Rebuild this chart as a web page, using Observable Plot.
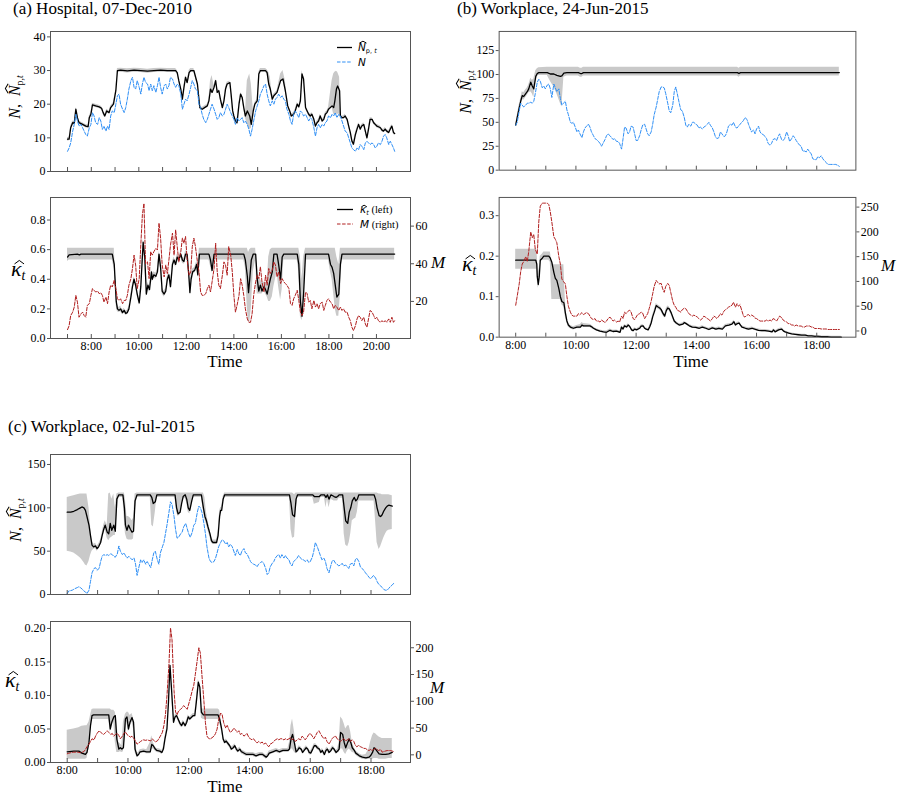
<!DOCTYPE html>
<html><head><meta charset="utf-8">
<script src="https://cdn.jsdelivr.net/npm/d3@7"></script>
<script src="https://cdn.jsdelivr.net/npm/@observablehq/plot@0.6"></script>
<style>
body{margin:0;background:#fff;}
#root{position:relative;width:899px;height:796px;font-family:"Liberation Serif","Times New Roman",serif;color:#000;overflow:hidden;background:#fff}
.t{position:absolute;white-space:nowrap;line-height:1}
.sub{position:relative;top:0.35em;font-size:0.62em;font-style:normal}
.subi{position:relative;top:0.35em;font-size:0.62em;font-style:italic}
.leg{font-family:"DejaVu Sans",sans-serif;font-size:10px}
.hat{position:relative;display:inline-block;font-style:italic}
.hat svg{position:absolute;overflow:visible}
</style></head><body><div id="root"></div>
<script>
// ---------------- DATA ----------------
// Panel (a): minutes after 07:00
const aStart = 420;
const aGridT = [0,4,8,13,17,21,25,29,34,38,42,46,50,55,59,63,67,71,76,80,84,88,92,97,101,105,109,113,118,122,126,130,134,139,143,147,151,155,160,164,168,172,176,181,185,189,193,197,202,206,210,214,218,223,227,231,235,239,244,248,252,256,260,265,269,273,277,281,286,290,294,298,302,307,311,315,319,323,328,332,336,340,344,349,353,357,361,365,370,374,378,382,386,391,395,399,403,407,412,416,420,424,428,433,437,441,445,449,454,458,462,466,470,475,479,483,487,491,496,500,504,508,512,517,521,525,529,533,538,542,546,550,554,559,563,567,571,575,580,584,588,592,596,601,605,609,613,617,622,626,630,634,638,643,647,651,655,659,664,668,672,676,680,685,689,693,697,701,706,710,714,718,722,727,731,735,739,743,748,752,756,760,764,769,773,777,781,785,790,794,798,802,806,811,815,819,823,826];
const aN = [6,7,8.5,12,14,17,15,13.5,14,13,12,11,10.5,13,14,17.5,16.5,14.5,14,16,15,12.5,13.5,12,13.5,12.5,16.5,18,17.5,20,22.5,23,20,18.5,17.5,19,21.5,24.5,27,28,25,24.5,27,25,23,26,28,26.5,26,24,26,24,25.5,23.5,25.5,28,25,23,25.5,26,24.5,25.5,28,27.5,26,25,26,25.5,23,18.5,20,21.5,21,23,25,27,26,24.5,24,20,19,17,15.5,14.5,15.5,17,18.5,20,18.5,17,15.5,16,17.5,16.5,17,18.5,20,19,17.5,16.5,15.5,14,16,15,15.5,16,14.5,15,14,12.5,10.5,12.5,15,18,19.5,21,23,24,25.5,26,23,21,19.5,21,20,21.5,22,23,22,22.5,21.5,21,18.5,17,15,14,17,18,17,16,18,17.5,16.5,17,16,15,16,15.5,13,10.5,13,14,13,14,13.5,14.5,15,16.5,16,17,16.5,17.5,16,17,16.5,15,13.5,12,11.5,10,8.5,7,6.5,6,7,6.5,8,7.5,6.5,8.5,9,8.5,8,8.5,8,7,7.5,8.5,8,9,10.5,11,10,8,9,8,7,6];
const aM = [5,7.1,12.5,14.3,17,23.2,19.6,11.6,13.4,14.3,12.5,11.6,17.9,18.8,23.2,26.8,25.9,25,25.4,24.1,24.6,23.2,19.6,22.3,18.8,25,28.6,27.7,31.3,26.8,21.4,20.5,21.4,18.8,20.5,20.5,23.2,28.6,32.1,37.5,44.6,39.3,26.8,32.1,50,66,72,40,41,32.1,46.4,44.6,46.4,48.2,47.3,61.6,53.6,39.3,33,39.3,34.8,42,50,56.3,44.6,58,49.1,41,46.4,53.6,50.9,54.5,42,33.9,35.7,49.1,53.6,49.1,41,35.7,25,23.2,23.2,24.1,26.8,28.6,25,30.4,37.5,50.9,35.7,28.6,26.8,33.9,41,39.3,33.9,49.1,44.6,35.7,23.2,14.3,17.9,23.2,32.1,28.6,23.2,16.1,10.7,8.9,8.9,13.4,23.2,30.4,33.9,32.1,38.4,30.4,25,33.9,28.6,37.5,34.8,36.6,41,39.3,33,35.7,29.5,32.1,30.4,29.5,28.6,26.8,18.8,17.9,21.4,23.2,25.9,20.5,14.3,12.5,14.3,25,24.1,19.6,20.5,16.1,20.5,17,18.8,16.1,18.8,19.6,15.2,17.9,20.5,21.4,19.6,18.8,16.1,17.9,17,15.2,17,15.2,16.1,14.3,14.3,11.6,9.8,6.3,4.5,7.1,10.7,12.5,11.6,9.8,11.6,8,6.3,10.7,15.2,14.3,12.5,10.7,11.6,9.8,8.9,9.8,8.9,9.8,8.9,10.7,8.9,11.6,8.9,9.8];
const aTopT = [0,4,8,13,17,21,25,29,38,46,52,55,59,63,71,80,86,90,94,99,105,109,116,122,126,134,151,168,185,202,218,235,252,273,277,281,286,290,294,298,302,307,311,319,328,334,340,349,353,357,361,365,370,374,378,382,386,391,395,399,403,410,413,417,420,424,428,433,437,441,445,449,454,460,464,469,473,479,483,487,500,504,508,512,517,521,529,538,544,550,556,561,565,571,575,580,584,588,592,596,601,605,609,613,617,622,626,630,634,638,643,647,651,655,659,668,672,675,679,682,687,689,693,697,701,706,710,714,718,722,727,731,735,739,743,748,752,756,760,764,769,773,777,781,785,790,794,798,802,806,811,815,819,823,826];
const aTopLine = [9.6,9.6,13,14.5,14.3,18.5,16,14.5,14,13.5,13.3,16,17,19.8,19.5,19.2,18.8,17.5,16.5,18,17.5,19,20,24,30,30.1,29.9,30.1,30,29.8,30,30.1,30,30,29.4,27,24.5,21.5,25,28,26.4,29.4,30,30,26,19,18.5,19.2,19.5,21,24.5,23.5,25,27,23.5,24,21.5,19,21,24.5,26,26.4,23,18,16.5,15,14.5,20,23,22,19,16.5,18,16.5,14,18,20,21,29,30,30,29.4,26,24.5,21.5,22.5,23.5,27,27.5,24,19.5,18,16.5,17,18,20,19.2,21,29,27.5,19,18,17,16.5,17,15.5,13.5,14.5,15,16.5,15,15.5,17,17.5,18.5,19.5,19,21,24.5,25.4,24,16.5,16,16,16.5,15.5,13.5,11.6,9.1,8.1,11,12.6,14,12.6,13.5,14,12,10,12.6,15.5,15.5,14.5,14,13.5,13.3,13,12.3,12,12.6,12,11.6,12.6,13.5,11.6,11.3];
const aTopLo = [9.1,9.1,12.5,14,13.8,18,15.5,14,13.5,13,12.8,15.5,16.5,19.3,19,18.7,18.3,17,16,17.5,17,18.5,19.5,23.5,29.4,29.5,29.3,29.5,29.4,29.2,29.4,29.5,29.4,29.4,28.9,26.5,24,21,24.5,27.5,25.9,28.9,29.4,29.4,25.5,18.5,18,18.7,19,20.5,24,23,24.5,26.5,23,23.5,21,18.5,20.5,24,25.5,25.9,22.5,17.5,16,14.5,14,19.5,22.5,21.5,18.5,16,14,12.5,12.8,17.5,19.5,20.5,28.5,29.4,29.4,28.9,25.5,24,21,22,23,26.5,27,23.5,19,17.5,16,16.5,17.5,19.5,18.7,20.5,28.5,27,18.5,17.5,16.5,16,16.5,15,13,14,14.5,16,14.5,15,16.5,17,18,19,17,17,17,17,17,16,15.5,15.5,16,15,13,11.1,8.6,7.6,10.5,12.1,13.5,12.1,13,13.5,11.5,9.5,12.1,15,15,14,13.5,13,12.8,12.5,11.8,11.5,12.1,11.5,11.1,12.1,13,11.1,10.8];
const aTopHi = [10.1,10.1,13.5,15,14.8,19,16.5,15,14.5,14,13.8,16.5,17.5,20.3,20,19.7,19.3,18,17,18.5,18,19.5,20.5,24.5,30.6,30.7,30.5,30.7,30.6,30.4,30.6,30.7,30.6,30.6,30,27.5,25,22,25.5,28.5,26.9,30,30.6,30.6,26.5,19.5,19,19.7,20,21.5,27,28.5,25.5,27.5,24,24.5,22,19.5,21.5,25,26.5,26.9,23.5,18.5,17,15.5,15,20.5,23.5,22.5,19.5,17,27,29,26,18.5,20.5,21.5,29.5,30.6,30.6,30.2,29.5,28,22.5,23,24,29,30,27,20,18.5,17,17.5,18.5,20.5,19.7,21.5,30,28,19.5,18.5,17.5,17,17.5,16,14,15,15.5,17,15.5,16,17.5,18,19,27,29,29.5,29.8,29.5,28,17,16.5,16.5,17,16,14,12.1,9.6,8.6,11.5,13.1,14.5,13.1,14,14.5,12.5,10.5,13.1,16,16,15,14.5,14,13.8,13.5,12.8,12.5,13.1,12.5,12.1,13.1,14,12.1,11.8];
const aBotT = [0,4,25,30,34,113,118,120,123,126,130,134,139,143,147,151,155,160,164,168,172,176,181,185,189,191,195,199,203,207,212,214,218,223,227,231,235,239,244,248,252,256,260,265,269,273,277,281,286,290,294,298,302,307,309,312,316,321,326,329,333,357,361,365,370,445,449,454,457,460,464,469,475,479,483,487,491,496,500,504,508,512,517,521,529,533,538,542,546,580,584,588,592,596,601,659,664,668,672,676,680,685,689,693,826];
const aBotLine = [0.55,0.565,0.57,0.565,0.57,0.57,0.50,0.40,0.25,0.20,0.19,0.20,0.175,0.19,0.17,0.175,0.20,0.28,0.35,0.40,0.36,0.30,0.24,0.35,0.55,0.65,0.55,0.30,0.36,0.33,0.45,0.40,0.43,0.42,0.45,0.57,0.48,0.32,0.30,0.32,0.40,0.43,0.35,0.50,0.53,0.50,0.55,0.53,0.57,0.53,0.52,0.57,0.57,0.40,0.31,0.40,0.45,0.46,0.50,0.43,0.57,0.57,0.53,0.46,0.57,0.57,0.53,0.42,0.31,0.40,0.53,0.57,0.57,0.40,0.32,0.36,0.32,0.35,0.33,0.30,0.35,0.40,0.45,0.57,0.57,0.50,0.40,0.55,0.57,0.57,0.50,0.25,0.15,0.30,0.57,0.57,0.50,0.48,0.44,0.36,0.28,0.30,0.50,0.57,0.57];
const aBotLo = [0.52,0.53,0.53,0.53,0.53,0.53,0.47,0.37,0.22,0.18,0.175,0.18,0.16,0.175,0.155,0.16,0.185,0.265,0.335,0.385,0.345,0.285,0.225,0.33,0.52,0.62,0.52,0.28,0.34,0.31,0.43,0.38,0.41,0.40,0.43,0.55,0.46,0.30,0.28,0.30,0.38,0.41,0.33,0.48,0.51,0.48,0.53,0.51,0.55,0.51,0.50,0.55,0.55,0.38,0.29,0.38,0.43,0.44,0.48,0.41,0.53,0.53,0.49,0.44,0.53,0.53,0.48,0.20,0.11,0.11,0.20,0.45,0.53,0.30,0.30,0.30,0.30,0.32,0.30,0.28,0.25,0.25,0.28,0.35,0.45,0.35,0.26,0.33,0.53,0.53,0.45,0.15,0.12,0.20,0.53,0.53,0.45,0.40,0.30,0.20,0.15,0.15,0.30,0.53,0.53];
const aBotHi = [0.61,0.61,0.61,0.61,0.61,0.61,0.61,0.50,0.32,0.23,0.21,0.22,0.19,0.205,0.185,0.19,0.215,0.295,0.365,0.415,0.375,0.315,0.255,0.37,0.58,0.67,0.58,0.32,0.38,0.35,0.47,0.42,0.45,0.44,0.47,0.59,0.50,0.34,0.32,0.34,0.42,0.45,0.37,0.52,0.55,0.52,0.57,0.55,0.59,0.55,0.54,0.59,0.59,0.45,0.36,0.44,0.47,0.48,0.52,0.50,0.61,0.61,0.61,0.61,0.61,0.61,0.61,0.61,0.58,0.60,0.61,0.61,0.61,0.45,0.40,0.40,0.38,0.38,0.38,0.36,0.55,0.60,0.61,0.61,0.61,0.61,0.61,0.61,0.61,0.61,0.61,0.55,0.40,0.55,0.61,0.61,0.61,0.61,0.61,0.61,0.55,0.50,0.61,0.61,0.61];

// Panels (b), (c): minutes after 08:00
const bStart = 480, cStart = 480;
const gridT = [0,3,7,10,13,16,20,23,26,30,33,36,39,43,46,49,53,56,59,63,66,69,72,76,79,82,86,89,92,95,99,102,105,109,112,115,118,122,125,128,132,135,138,141,145,148,151,155,158,161,165,168,171,174,178,181,184,188,191,194,197,201,204,207,211,214,217,220,224,227,230,234,237,240,243,247,250,253,257,260,263,266,270,273,276,280,283,286,290,293,296,299,303,306,309,313,316,319,322,326,329,332,336,339,342,345,349,352,355,359,362,365,368,372,375,378,382,385,388,392,395,398,401,405,408,411,415,418,421,424,428,431,434,438,441,444,447,451,454,457,461,464,467,470,474,477,480,484,487,490,494,497,500,503,507,510,513,517,520,523,526,530,533,536,540,543,546,550,553,556,559,563,566,569,572,576,579,582,586,589,592,596,599,602,605,609,612,615,619,622,625,628,632,635,638,642,645];
const bN = [47,50,62,70,68,66,68,70,70,71,70,72,80,92,95,93,86,88,85,89,90,85,76,90,86,82,85,75,68,70,72,63,58,50,49,50,46,40,42,38,34,40,44,46,48,45,40,36,33,32,30,28,25,28,32,36,38,36,34,32,33,30,30,28,22,33,45,44,38,40,46,45,38,31,31,36,42,47,48,43,38,36,40,48,58,66,74,82,87,87,86,80,70,62,60,68,82,87,80,70,63,62,55,47,45,48,46,50,50,48,47,44,45,43,45,46,48,50,47,44,40,35,33,34,40,38,35,36,40,46,48,47,50,45,44,46,48,50,52,55,53,48,44,40,42,38,43,46,40,38,37,35,33,28,26,28,32,33,31,35,38,32,31,33,40,36,30,33,36,34,31,28,26,25,20,20,19,22,19,17,12,11,11,14,13,15,12,10,8,6,6,6,6,6,6,5,4];
const bM = [52,70,95,120,135,140,150,140,160,200,188,195,165,155,220,252,258,258,258,258,255,240,220,190,185,178,150,135,105,100,95,70,50,38,32,30,30,30,35,33,37,33,35,37,35,30,25,23,25,20,20,18,22,20,17,20,25,28,24,20,22,18,20,18,30,25,38,35,40,42,38,25,23,28,33,35,38,36,25,30,35,45,60,75,90,102,98,95,96,85,78,90,96,92,78,60,52,48,42,40,38,43,46,45,40,35,32,30,32,30,28,25,22,25,30,28,25,23,20,25,30,28,25,30,35,32,40,43,45,48,50,52,58,48,55,50,53,40,30,28,32,33,30,32,30,26,25,22,20,20,20,20,22,20,22,20,25,23,20,25,30,27,22,20,18,15,15,12,12,10,12,10,10,10,8,8,10,10,10,8,8,5,5,5,5,4,4,4,4,3,3,3,3,3,3,3,3];
const bTopT = [0,3,7,10,13,16,20,23,26,30,33,36,40,43,46,63,69,76,82,89,92,96,102,125,129,132,135,442,445,448,645];
const bTopLine = [47,55,65,72,78,77,80,82,85,92,88,85,98,101,102,102,100.5,100.5,99,98,98.5,101.5,102,102,101,101,102,102,101,102,102];
const bTopLo = [46,53,62,69,74,73,76,78,81,82,80,76,92,98,99,99,93,87,80,70,66,97,98.5,98.5,97,97,98.5,98.5,97,98.5,98.5];
const bTopHi = [48,57,68,75,82,81,84,86,89,96,94,95,104,106,107,107.5,107.5,107.5,107.5,107.5,107.5,107.5,107.5,107.5,106.5,106.5,107.5,107.5,106.5,107.5,107.5];
const bBotT = [0,40,42,43,45,47,49,53,56,66,69,72,76,79,82,86,89,92,96,99,102,105,109,115,122,129,132,135,148,152,155,161,168,175,181,188,194,201,208,211,214,217,221,224,227,231,234,237,241,247,250,254,257,260,264,267,270,273,277,280,283,287,290,293,297,300,303,306,310,313,316,320,326,333,336,339,346,352,359,366,372,379,385,392,399,405,412,418,425,431,435,438,441,445,448,451,458,464,471,478,484,491,497,504,511,514,517,524,530,534,537,544,550,557,563,570,577,583,590,596,603,610,623,629,649];
const bBotLine = [0.19,0.19,0.18,0.15,0.13,0.15,0.19,0.195,0.20,0.20,0.195,0.185,0.16,0.145,0.14,0.12,0.10,0.088,0.085,0.06,0.04,0.03,0.025,0.022,0.025,0.025,0.03,0.028,0.028,0.025,0.022,0.018,0.015,0.013,0.012,0.017,0.014,0.015,0.012,0.025,0.02,0.028,0.025,0.03,0.027,0.018,0.016,0.02,0.018,0.022,0.027,0.028,0.022,0.02,0.018,0.025,0.035,0.05,0.065,0.078,0.075,0.072,0.068,0.06,0.052,0.065,0.072,0.07,0.06,0.05,0.04,0.035,0.03,0.032,0.036,0.034,0.028,0.025,0.024,0.022,0.025,0.022,0.019,0.023,0.02,0.022,0.02,0.028,0.03,0.032,0.038,0.03,0.033,0.035,0.03,0.025,0.022,0.02,0.022,0.019,0.017,0.016,0.016,0.015,0.013,0.018,0.013,0.018,0.02,0.015,0.013,0.01,0.008,0.007,0.006,0.005,0.005,0.003,0.003,0.002,0.002,0.001,0.001,0,0];
const bBotLo = [0.168,0.168,0.168,0.14,0.12,0.14,0.185,0.19,0.19,0.19,0.185,0.093,0.093,0.093,0.093,0.093,0.093,0.08,0.075,0.05,0.035,0.025,0.021,0.018,0.021,0.021,0.024,0.024,0.024,0.021,0.019,0.015,0.012,0.01,0.009,0.014,0.011,0.012,0.009,0.022,0.017,0.025,0.022,0.027,0.024,0.015,0.013,0.017,0.015,0.019,0.024,0.025,0.019,0.017,0.015,0.022,0.031,0.045,0.06,0.073,0.07,0.067,0.063,0.055,0.047,0.06,0.067,0.065,0.055,0.045,0.036,0.031,0.027,0.029,0.033,0.031,0.025,0.022,0.021,0.019,0.022,0.019,0.016,0.02,0.017,0.019,0.017,0.025,0.027,0.029,0.034,0.027,0.03,0.032,0.027,0.022,0.019,0.017,0.019,0.016,0.014,0.013,0.013,0.012,0.01,0.015,0.01,0.015,0.017,0.012,0.011,0.008,0.006,0.005,0.004,0.003,0.003,0.001,0.001,0,0,0,0,0,0];
const bBotHi = [0.217,0.217,0.217,0.2,0.16,0.17,0.2,0.205,0.21,0.21,0.21,0.185,0.179,0.179,0.179,0.179,0.179,0.179,0.179,0.09,0.05,0.035,0.029,0.026,0.029,0.031,0.036,0.034,0.032,0.029,0.025,0.021,0.018,0.016,0.015,0.02,0.017,0.018,0.015,0.028,0.023,0.031,0.028,0.033,0.03,0.021,0.019,0.023,0.021,0.025,0.03,0.031,0.025,0.023,0.021,0.028,0.039,0.055,0.07,0.083,0.08,0.077,0.073,0.065,0.057,0.07,0.077,0.075,0.065,0.055,0.044,0.039,0.033,0.035,0.039,0.037,0.031,0.028,0.027,0.025,0.028,0.025,0.022,0.026,0.023,0.025,0.023,0.031,0.033,0.035,0.042,0.033,0.036,0.038,0.033,0.028,0.025,0.023,0.025,0.022,0.02,0.019,0.019,0.018,0.016,0.021,0.016,0.021,0.023,0.018,0.015,0.012,0.01,0.009,0.008,0.007,0.007,0.005,0.005,0.004,0.004,0.003,0.003,0.002,0.002];
const cN = [1,4,4.5,5,6,7,8,9,8,6,4,3,1,5,15,25,30,31,28,30,38,44,46,45,46,45,47,46,44,43,47,56,50,46,48,45,42,44,42,40,42,35,22,30,40,37,40,35,38,35,31,40,48,50,40,35,48,55,60,70,80,95,107,104,90,75,65,66,70,72,78,82,76,70,66,72,80,82,95,102,100,95,82,70,55,42,38,37,38,42,48,55,60,63,62,58,60,55,58,55,50,45,52,47,45,50,53,48,47,42,38,36,35,34,32,35,37,38,36,30,23,25,32,36,38,42,45,46,42,46,42,45,42,40,35,33,38,40,42,45,42,40,40,38,40,37,38,43,50,60,55,50,45,40,42,38,30,25,32,38,40,36,35,33,34,36,33,34,32,30,35,36,33,40,42,38,32,30,28,25,23,20,18,20,22,19,15,12,10,8,6,5,5,7,9,11,13];
const cM = [2,3,4,4.5,5,5,5,4.5,4,5,6,10,15,20,25,30,28,35,40,45,42,40,38,42,45,42,38,40,35,38,40,36,30,35,40,43,38,35,33,35,30,25,20,22,25,27,28,27,28,27,26,30,27,24,26,30,35,42,55,75,110,170,237,215,120,80,75,82,85,88,92,88,85,95,105,120,130,150,178,200,190,150,100,60,35,30,30,32,35,40,48,65,78,75,60,50,55,48,42,45,50,47,42,45,38,40,35,37,40,32,30,28,30,25,22,25,22,24,20,22,18,15,20,22,25,28,30,28,30,30,28,30,28,30,32,28,30,25,28,30,28,35,32,28,33,38,40,35,30,35,42,45,40,35,30,33,25,20,25,30,33,35,30,28,25,28,30,26,28,30,25,28,25,18,15,18,15,14,12,12,10,8,10,8,10,12,10,8,10,5,6,7,8,8,8,7,6];
const cTopT = [0,7,13,20,26,29,33,36,39,43,46,49,52,56,59,62,66,69,72,75,79,82,85,88,92,95,98,102,110,113,115,118,121,125,128,131,134,138,164,167,170,174,177,213,216,219,223,226,229,233,236,239,242,246,249,265,269,272,275,278,282,285,288,295,298,301,303,305,308,311,439,442,445,449,452,455,485,488,498,501,508,511,514,517,521,527,531,534,537,544,547,550,554,557,560,563,567,570,573,576,606,609,612,616,619,622,625,629,632,635,642];
const cTopLine = [95,95,96,98,100,101,100,97,90,80,68,57,55,56,53,55,60,68,75,80,72,70,82,74,80,73,110,115,115,100,80,74,80,75,72,73,108,115,115,112,105,107,115,115,100,93,95,105,113,115,110,100,97,108,115,115,100,90,85,78,70,62,60,60,68,90,97,97,110,115,115,105,92,90,110,115,115,113,113,115,115,112,115,110,115,113,112,113,115,115,100,85,82,95,100,108,112,108,110,115,115,110,100,91,90,92,96,100,102,103,102];
const cTopLo = [50,49,48,45,42,40,37,34,33,38,45,50,52,53,50,52,57,65,70,75,65,62,65,66,68,68,90,112,112,85,70,64,63,63,63,64,95,112,112,80,78,95,112,112,95,90,92,100,110,111,106,95,93,104,112,112,96,86,81,74,66,59,58,58,64,85,94,94,106,112,112,75,65,66,95,112,112,104,106,112,112,100,110,100,110,108,108,108,111,111,70,57,55,60,70,85,87,88,95,108,108,85,60,52,55,60,65,70,73,74,75];
const cTopHi = [112,113,114,115,116,116,116,116,116,100,80,62,58,59,56,58,63,71,80,85,80,116,117,110,116,100,116,117,117,117,110,90,90,88,85,88,116,117,117,117,117,117,117,117,117,117,117,117,117,117,117,117,117,117,117,117,117,112,95,85,75,66,63,63,72,96,100,101,113,117,117,117,117,115,117,117,117,117,117,117,117,117,117,117,117,117,117,117,117,117,117,117,117,117,117,117,117,117,117,117,117,117,117,116,116,115,115,115,115,115,114];
const cBotT = [0,13,23,29,36,39,43,46,49,52,82,85,88,92,95,98,102,105,108,111,115,118,121,124,128,131,134,138,141,144,151,157,164,167,170,174,177,183,187,190,193,197,200,203,206,210,213,216,219,223,226,229,233,236,239,242,246,249,252,255,259,262,265,269,298,301,305,308,311,314,318,321,324,328,331,334,337,341,344,347,354,360,367,373,380,386,393,396,399,406,413,419,426,436,439,442,445,449,452,455,458,462,465,468,472,475,478,481,485,488,491,494,498,501,504,508,511,514,517,521,524,527,531,534,537,540,544,547,550,554,557,560,563,567,570,577,583,590,596,599,603,606,609,613,616,622,629,635,642];
const cBotLine = [0.016,0.017,0.017,0.014,0.012,0.015,0.03,0.055,0.07,0.071,0.071,0.05,0.06,0.068,0.07,0.035,0.02,0.022,0.02,0.022,0.065,0.068,0.05,0.06,0.067,0.06,0.02,0.01,0.012,0.016,0.017,0.016,0.016,0.027,0.025,0.02,0.018,0.017,0.015,0.02,0.035,0.05,0.09,0.145,0.11,0.06,0.068,0.07,0.065,0.058,0.055,0.06,0.055,0.06,0.068,0.065,0.068,0.07,0.07,0.09,0.12,0.112,0.075,0.071,0.071,0.065,0.05,0.035,0.03,0.032,0.028,0.025,0.02,0.022,0.025,0.02,0.017,0.02,0.016,0.015,0.012,0.012,0.012,0.01,0.012,0.012,0.008,0.01,0.014,0.016,0.018,0.016,0.018,0.018,0.02,0.035,0.042,0.028,0.016,0.018,0.022,0.02,0.015,0.018,0.022,0.02,0.015,0.014,0.02,0.025,0.025,0.022,0.02,0.015,0.018,0.012,0.018,0.02,0.015,0.018,0.022,0.02,0.015,0.017,0.02,0.045,0.042,0.03,0.022,0.03,0.035,0.03,0.022,0.018,0.014,0.01,0.008,0.007,0.008,0.01,0.015,0.022,0.02,0.016,0.013,0.012,0.012,0.013,0.015];
const cBotLo = [0.005,0.005,0.005,0.005,0.005,0.006,0.02,0.045,0.064,0.064,0.064,0.045,0.055,0.06,0.03,0.015,0.015,0.016,0.015,0.016,0.04,0.06,0.045,0.055,0.06,0.05,0.015,0.007,0.009,0.013,0.014,0.013,0.013,0.02,0.02,0.017,0.015,0.014,0.012,0.017,0.032,0.047,0.086,0.14,0.106,0.057,0.065,0.067,0.062,0.055,0.052,0.057,0.052,0.057,0.065,0.062,0.065,0.067,0.067,0.086,0.116,0.108,0.066,0.064,0.064,0.06,0.046,0.032,0.027,0.029,0.025,0.022,0.017,0.019,0.022,0.017,0.014,0.017,0.013,0.012,0.009,0.009,0.009,0.007,0.009,0.009,0.005,0.007,0.011,0.013,0.015,0.013,0.015,0.015,0.016,0.02,0.02,0.015,0.013,0.015,0.019,0.017,0.012,0.015,0.019,0.017,0.012,0.011,0.017,0.022,0.022,0.019,0.017,0.012,0.015,0.009,0.015,0.017,0.012,0.015,0.019,0.017,0.012,0.014,0.015,0.02,0.02,0.015,0.012,0.018,0.02,0.018,0.015,0.014,0.011,0.007,0.005,0.004,0.005,0.005,0.005,0.006,0.006,0.006,0.005,0.005,0.005,0.006,0.006];
const cBotHi = [0.048,0.05,0.052,0.054,0.055,0.055,0.06,0.07,0.079,0.08,0.08,0.08,0.078,0.078,0.075,0.06,0.03,0.028,0.025,0.06,0.072,0.075,0.075,0.07,0.073,0.066,0.04,0.014,0.015,0.019,0.02,0.019,0.03,0.04,0.03,0.023,0.021,0.02,0.018,0.023,0.038,0.053,0.094,0.15,0.114,0.063,0.071,0.073,0.068,0.061,0.058,0.063,0.058,0.063,0.071,0.068,0.071,0.073,0.073,0.094,0.124,0.116,0.08,0.08,0.08,0.078,0.06,0.04,0.033,0.035,0.031,0.028,0.023,0.025,0.028,0.023,0.02,0.023,0.019,0.018,0.015,0.015,0.015,0.013,0.015,0.015,0.011,0.013,0.017,0.019,0.021,0.019,0.021,0.021,0.03,0.055,0.065,0.045,0.02,0.021,0.025,0.023,0.018,0.021,0.025,0.023,0.018,0.017,0.023,0.028,0.028,0.025,0.023,0.018,0.021,0.015,0.021,0.023,0.018,0.021,0.025,0.023,0.018,0.02,0.03,0.068,0.064,0.058,0.05,0.055,0.055,0.045,0.03,0.022,0.017,0.013,0.011,0.012,0.02,0.03,0.04,0.044,0.043,0.04,0.038,0.036,0.036,0.036,0.036];

// Axis ticks
const aTickHours = [7,8,9,10,11,12,13,14,15,16,17,18,19,20];
const aLabelHours = [8,10,12,14,16,18,20];
const bcTickHours = [8,9,10,11,12,13,14,15,16,17,18];
const bcLabelHours = [8,10,12,14,16,18];
const a1Ticks = [0,10,20,30,40], a2KTicks = [0,0.2,0.4,0.6,0.8], a2MTicks = [20,40,60];
const b1Ticks = [0,25,50,75,100,125], b2KTicks = [0,0.1,0.2,0.3], b2MTicks = [0,50,100,150,200,250];
const c1Ticks = [0,50,100,150], c2KTicks = [0,0.05,0.1,0.15,0.2], c2MTicks = [0,50,100,150,200];

// ---------------- DRAW ----------------
const root = document.getElementById("root");
const BLUE = "#2f8ff5", RED = "#b01e1e", BAND = "#c9c9c9", AX = "#555";
const MG = {l: 40, r: 44, t: 6, b: 28};

function zip(start, t, cols) {
  return t.map((v, i) => { const o = {t: start + v}; for (const k in cols) o[k] = cols[k][i]; return o; });
}
function mkPlot(p, ydom, marks, hasX) {
  const svg = Plot.plot({
    width: p.fw + MG.l + MG.r, height: p.fh + MG.t + MG.b,
    marginLeft: MG.l, marginRight: MG.r, marginTop: MG.t, marginBottom: MG.b,
    x: hasX ? {domain: p.xd} : {domain: p.xd, axis: null},
    y: {domain: ydom},
    style: {background: "transparent", fontFamily: "'Liberation Serif', serif", fontSize: "12px", color: "#000", overflow: "visible"},
    marks
  });
  const d = document.createElement("div");
  d.style.cssText = `position:absolute;left:${p.fx - MG.l}px;top:${p.fy - MG.t}px;`;
  d.appendChild(svg);
  root.appendChild(d);
}
const frameMarks = (p, hours) => [
  Plot.frame({stroke: AX}),
  Plot.ruleX(hours.map(h => h * 60), {stroke: AX, insetTop: p.fh - 4})
];
const yAxis = (ticks, fmt, anchor = "left") => Plot.axisY({anchor, ticks, tickFormat: fmt, tickSize: 3, tickPadding: 2, label: null, stroke: AX});
const xLabels = (hours) => Plot.axisX({ticks: hours.map(h => h * 60), tickFormat: m => `${m / 60}:00`, tickSize: 0, tickPadding: 3, label: null});

function topPanel(p, core, nRows, ydom, yt, hours) {
  mkPlot(p, ydom, [
    Plot.areaY(core, {x: "t", y1: "lo", y2: "hi", fill: BAND}),
    Plot.line(core, {x: "t", y: "v", stroke: "#000", strokeWidth: 1.3}),
    Plot.line(nRows, {x: "t", y: "v", stroke: BLUE, strokeWidth: 1, strokeDasharray: "3.5,1.6"}),
    ...frameMarks(p, hours),
    yAxis(yt, d => d)
  ], false);
}
function botPanel(p, core, mRows, kdom, mdom, kt, kfmt, mt, hours, labels) {
  mkPlot(p, kdom, [
    Plot.areaY(core, {x: "t", y1: "lo", y2: "hi", fill: BAND}),
    Plot.line(core, {x: "t", y: "v", stroke: "#000", strokeWidth: 1.3}),
    ...frameMarks(p, hours),
    yAxis(kt, kfmt),
    xLabels(labels)
  ], true);
  mkPlot(p, mdom, [
    Plot.line(mRows, {x: "t", y: "v", stroke: RED, strokeWidth: 1, strokeDasharray: "3.5,1.6"}),
    yAxis(mt, d => d, "right")
  ], false);
}

const pa1 = {fx: 50, fy: 31, fw: 360, fh: 140, xd: [377, 1286]};
const pa2 = {fx: 50, fy: 197, fw: 360, fh: 141, xd: [377, 1286]};
const pb1 = {fx: 499, fy: 31, fw: 360, fh: 140, xd: [447, 1158]};
const pb2 = {fx: 499, fy: 197, fw: 360, fh: 141, xd: [447, 1158]};
const pc1 = {fx: 50, fy: 454, fw: 360, fh: 140, xd: [447, 1158]};
const pc2 = {fx: 50, fy: 621, fw: 360, fh: 141, xd: [447, 1158]};

topPanel(pa1, zip(aStart, aTopT, {v: aTopLine, lo: aTopLo, hi: aTopHi}), zip(aStart, aGridT, {v: aN}), [0, 41.6], a1Ticks, aTickHours);
botPanel(pa2, zip(aStart, aBotT, {v: aBotLine, lo: aBotLo, hi: aBotHi}), zip(aStart, aGridT, {v: aM}), [0, 0.952], [0.3, 75.2], a2KTicks, d3.format(".1f"), a2MTicks, aTickHours, aLabelHours);
topPanel(pb1, zip(bStart, bTopT, {v: bTopLine, lo: bTopLo, hi: bTopHi}), zip(bStart, gridT, {v: bN}), [0, 145], b1Ticks, bcTickHours);
botPanel(pb2, zip(bStart, bBotT, {v: bBotLine, lo: bBotLo, hi: bBotHi}), zip(bStart, gridT, {v: bM}), [0, 0.345], [-12.5, 269.5], b2KTicks, d3.format(".1f"), b2MTicks, bcTickHours, bcLabelHours);
topPanel(pc1, zip(cStart, cTopT, {v: cTopLine, lo: cTopLo, hi: cTopHi}), zip(cStart, gridT, {v: cN}), [0, 161.5], c1Ticks, bcTickHours);
botPanel(pc2, zip(cStart, cBotT, {v: cBotLine, lo: cBotLo, hi: cBotHi}), zip(cStart, gridT, {v: cM}), [0, 0.2104], [-14.3, 249], c2KTicks, d3.format(".2f"), c2MTicks, bcTickHours, bcLabelHours);

// ---------------- TEXT ----------------
function txt(html, left, baseline, size, cls = "", center = false) {
  const d = document.createElement("div");
  d.className = "t " + cls;
  d.style.fontSize = size + "px";
  d.style.left = left + "px";
  d.style.top = (baseline - 0.8375 * size) + "px";
  if (center) d.style.transform = "translateX(-50%)";
  d.innerHTML = html;
  root.appendChild(d);
}
function rot(html, cx, cy, size) {
  const d = document.createElement("div");
  d.className = "t";
  d.style.cssText += `font-size:${size}px;left:${cx}px;top:${cy}px;transform:translate(-50%,-50%) rotate(-90deg);`;
  d.innerHTML = html;
  root.appendChild(d);
}
// letter with a drawn wide hat (a small inline svg caret, not text)
const hat = (ch, top, h) => `<span class="hat">${ch}<svg style="left:0.12em;top:${top}em;width:100%;height:${h}em" viewBox="0 0 10 4" preserveAspectRatio="none"><polyline points="0.5,3.6 5,0.4 9.5,3.6" fill="none" stroke="currentColor" stroke-width="1" vector-effect="non-scaling-stroke"/></svg></span>`;

txt("(a) Hospital, 07-Dec-2010", 13, 14, 17);
txt("(b) Workplace, 24-Jun-2015", 457, 14, 17);
txt("(c) Workplace, 02-Jul-2015", 8, 432, 17);

const nLab = `<i>N</i>,&nbsp; ${hat("N", -0.12, 0.22)}<span class="sub">p,<i>t</i></span>`;
rot(nLab, 15, 97, 16);
rot(nLab, 466, 92, 16);
rot(nLab, 16, 520, 16);

const kLab = `${hat("&kappa;", 0.1, 0.2)}<span class="subi">t</span>`;
txt(kLab, 11, 276, 22);
txt(kLab, 462, 271, 22);
txt(kLab, 5, 687, 22);

txt("<i>M</i>", 431, 268, 17);
txt("<i>M</i>", 881, 271, 17);
txt("<i>M</i>", 430, 693, 17);

txt("Time", 225, 367, 17, "", true);
txt("Time", 691, 367, 17, "", true);
txt("Time", 225, 792, 17, "", true);

// legends
const legSvg = document.createElementNS("http://www.w3.org/2000/svg", "svg");
legSvg.setAttribute("width", 899); legSvg.setAttribute("height", 796);
legSvg.style.cssText = "position:absolute;left:0;top:0;pointer-events:none";
const legLines = [
  {y: 47.5, c: "#000", d: null, x1: 337, x2: 352},
  {y: 62, c: BLUE, d: "3.5,1.6", x1: 337, x2: 352},
  {y: 209.5, c: "#000", d: null, x1: 337, x2: 353},
  {y: 224, c: RED, d: "3.5,1.6", x1: 337, x2: 353}
];
for (const L of legLines) {
  const ln = document.createElementNS("http://www.w3.org/2000/svg", "line");
  ln.setAttribute("x1", L.x1); ln.setAttribute("x2", L.x2);
  ln.setAttribute("y1", L.y); ln.setAttribute("y2", L.y);
  ln.setAttribute("stroke", L.c); ln.setAttribute("stroke-width", L.d ? 1 : 1.3);
  if (L.d) ln.setAttribute("stroke-dasharray", L.d);
  legSvg.appendChild(ln);
}
root.appendChild(legSvg);
txt(`${hat("N", -0.1, 0.22)}<span class="sub">p, <i>t</i></span>`, 358, 51, 10.5, "leg");
txt('<i>N</i>', 358, 65.5, 10.5, "leg");
txt(`${hat("&kappa;", 0.12, 0.2)}<span class="subi">t</span><span style="font-family:'Liberation Serif',serif"> (left)</span>`, 360, 213, 10.5, "leg");
txt('<i>M</i><span style="font-family:\'Liberation Serif\',serif"> (right)</span>', 360, 228, 10.5, "leg");
</script>
</body></html>
